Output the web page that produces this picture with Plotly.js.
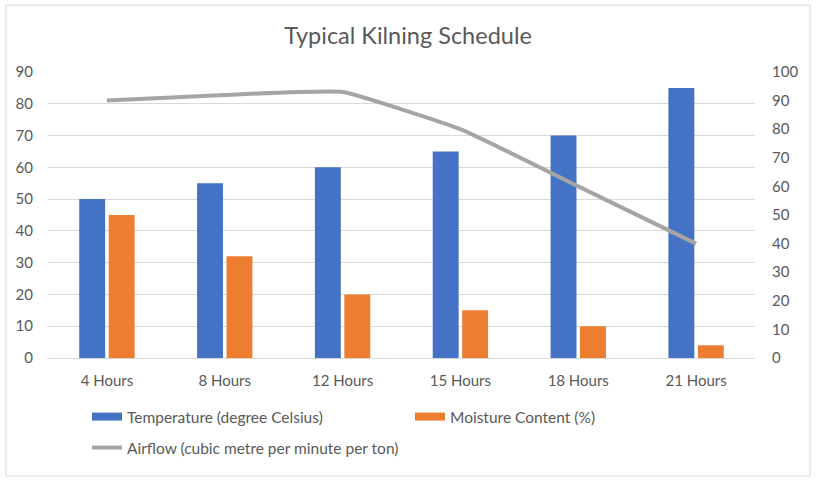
<!DOCTYPE html>
<html>
<head>
<meta charset="utf-8">
<script src="https://cdn.plot.ly/plotly-3.0.1.min.js"></script>
<style>
  html, body { margin: 0; padding: 0; background: #ffffff; }
  #chart { width: 816px; height: 485px; }
</style>
</head>
<body>
<div id="chart"></div>
<script>
// ---- Data ----
const categories = ["4 Hours", "8 Hours", "12 Hours", "15 Hours", "18 Hours", "21 Hours"];
const temperature = [50, 55, 60, 65, 70, 85];          // degree Celsius (left axis)
const moisture = [45, 32, 20, 15, 10, 4];               // % (left axis)
const airflow = [90, 92, 93, 80, 60, 40];               // cubic metre / min / ton (right axis)

const seriesNames = {
  temp: "Temperature (degree Celsius)",
  moist: "Moisture Content (%)",
  air: "Airflow (cubic metre per minute per ton)"
};

const leftTicks = [0, 10, 20, 30, 40, 50, 60, 70, 80, 90];
const rightTicks = [0, 10, 20, 30, 40, 50, 60, 70, 80, 90, 100];

// ---- Styles ----
const BLUE = "#4472C4", ORANGE = "#ED7D31", GREY = "#A5A5A5";
const TEXT = "#595959", GRID = "#D9D9D9";
const FONT = "Lato, 'Open Sans', sans-serif";

const traces = [
  {
    type: "bar", name: seriesNames.temp, x: categories, y: temperature,
    marker: { color: BLUE }, showlegend: false
  },
  {
    type: "bar", name: seriesNames.moist, x: categories, y: moisture,
    marker: { color: ORANGE }, showlegend: false
  },
  {
    type: "scatter", mode: "lines", name: seriesNames.air, x: categories, y: airflow,
    yaxis: "y2", line: { color: GREY, width: 4, shape: "spline", smoothing: 0.35 },
    showlegend: false
  },
  // legend entries (Excel-style wide swatches)
  {
    type: "scatter", mode: "lines", name: seriesNames.temp, x: [null], y: [null],
    line: { color: BLUE, width: 8 }, legend: "legend"
  },
  {
    type: "scatter", mode: "lines", name: seriesNames.moist, x: [null], y: [null],
    line: { color: ORANGE, width: 8 }, legend: "legend3"
  },
  {
    type: "scatter", mode: "lines", name: seriesNames.air, x: [null], y: [null],
    line: { color: GREY, width: 4 }, legend: "legend2"
  }
];

function legendAt(px, py) {
  return {
    orientation: "h", x: (px - 48) / 707, xanchor: "left",
    y: (358 - py) / 286, yanchor: "middle", xref: "paper", yref: "paper",
    font: { size: 15.5, color: TEXT, family: FONT }, bgcolor: "rgba(0,0,0,0)",
    itemwidth: 30, borderwidth: 0
  };
}

const layout = {
  width: 816, height: 485,
  paper_bgcolor: "#ffffff", plot_bgcolor: "#ffffff",
  font: { family: FONT, color: TEXT, size: 15 },
  margin: { l: 48, r: 61, t: 72, b: 127, pad: 0 },
  title: {
    text: "Typical Kilning Schedule",
    font: { family: FONT, size: 23.5, color: TEXT },
    x: 0.5, xref: "container", xanchor: "center",
    y: 1 - 36 / 485, yref: "container", yanchor: "middle"
  },
  barmode: "group", bargap: 0.5, bargroupgap: 0.12,
  xaxis: {
    type: "category", showgrid: false, zeroline: false, showline: false,
    ticks: "", tickfont: { size: 15, color: TEXT }, ticklabelstandoff: 12
  },
  yaxis: {
    range: [0, 90], tickvals: leftTicks, showgrid: true, gridcolor: GRID, gridwidth: 1,
    zeroline: true, zerolinecolor: GRID, zerolinewidth: 1, showline: false, ticks: "",
    tickfont: { size: 15, color: TEXT }, ticklabelstandoff: 14
  },
  yaxis2: {
    range: [0, 100], tickvals: rightTicks, overlaying: "y", side: "right",
    showgrid: false, zeroline: false, showline: false, ticks: "",
    tickfont: { size: 15, color: TEXT }, ticklabelstandoff: 16
  },
  legend: legendAt(87, 417),
  legend3: legendAt(410, 417),
  legend2: legendAt(87, 448),
  shapes: [
    {
      type: "rect", xref: "paper", yref: "paper",
      x0: (6 - 48) / 707, x1: (810 - 48) / 707,
      y0: (358 - 476) / 286, y1: (358 - 5) / 286,
      line: { color: GRID, width: 1 }, fillcolor: "rgba(0,0,0,0)", layer: "below"
    }
  ],
  showlegend: true,
  hovermode: false
};

Plotly.newPlot("chart", traces, layout, { displayModeBar: false, staticPlot: true });
</script>
</body>
</html>
